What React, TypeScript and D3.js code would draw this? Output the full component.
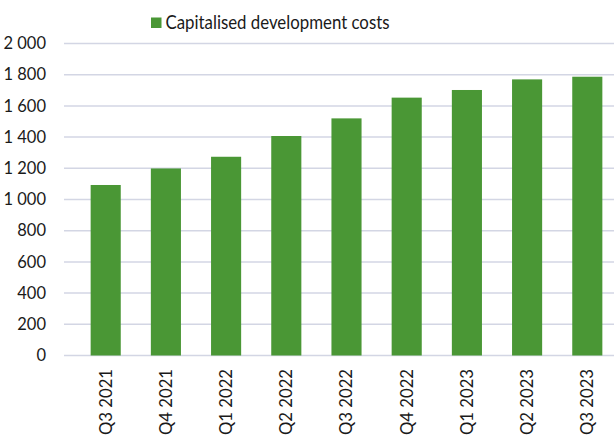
import React, { useEffect, useRef } from 'react';
import * as d3 from 'd3';

const quarters = ['Q3 2021', 'Q4 2021', 'Q1 2022', 'Q2 2022', 'Q3 2022', 'Q4 2022', 'Q1 2023', 'Q2 2023', 'Q3 2023'];
const devCosts = [1093, 1199, 1274, 1407, 1520, 1653, 1702, 1770, 1787];
const yTicks = [0, 200, 400, 600, 800, 1000, 1200, 1400, 1600, 1800, 2000];
const seriesName = 'Capitalised development costs';

const WIDTH = 614;
const HEIGHT = 437;
const FONT = '"Source Sans Pro", Lato, "Noto Sans", sans-serif';

const App: React.FC = () => {
  const svgRef = useRef<SVGSVGElement>(null);

  useEffect(() => {
    if (!svgRef.current) return;
    const svg = d3.select(svgRef.current);
    svg.selectAll('*').remove();

    const y = d3.scaleLinear().domain([0, 2000]).range([355.5, 43.5]);
    const x = d3.scaleBand().domain(quarters).range([75.6, 617.4]).paddingInner(0.5).paddingOuter(0.25);

    const fmt = (v: number) => d3.format(',')(v).replace(/,/g, ' ');

    // Gridlines
    svg.append('g')
      .selectAll('line')
      .data(yTicks)
      .enter()
      .append('line')
      .attr('x1', 64)
      .attr('x2', WIDTH)
      .attr('y1', (d) => y(d))
      .attr('y2', (d) => y(d))
      .style('stroke', '#d3d6e4')
      .style('stroke-width', 1.5);

    // Y labels
    svg.append('g')
      .selectAll('text')
      .data(yTicks)
      .enter()
      .append('text')
      .attr('x', 46)
      .attr('y', (d) => y(d))
      .attr('dy', '0.35em')
      .attr('text-anchor', 'end')
      .style('font-family', FONT)
      .style('font-size', '16.5px')
      .style('fill', '#1a1a1a')
      .text((d) => fmt(d));

    // Bars
    svg.append('g')
      .selectAll('rect')
      .data(devCosts)
      .enter()
      .append('rect')
      .attr('x', (_, i) => x(quarters[i]) || 0)
      .attr('y', (d) => y(d))
      .attr('width', x.bandwidth())
      .attr('height', (d) => y(0) - y(d))
      .style('fill', '#4a9735');

    // X labels (rotated)
    svg.append('g')
      .selectAll('text')
      .data(quarters)
      .enter()
      .append('text')
      .attr('transform', (d) => `translate(${(x(d) || 0) + x.bandwidth() / 2},369) rotate(-90)`)
      .attr('dy', '0.35em')
      .attr('text-anchor', 'end')
      .attr('textLength', 66)
      .attr('lengthAdjust', 'spacingAndGlyphs')
      .style('font-family', FONT)
      .style('font-size', '17px')
      .style('fill', '#1a1a1a')
      .text((d) => d);

    // Legend
    const legend = svg.append('g');
    legend.append('rect')
      .attr('x', 151)
      .attr('y', 17.5)
      .attr('width', 10.5)
      .attr('height', 10.5)
      .style('fill', '#4a9735');
    legend.append('text')
      .attr('x', 165.5)
      .attr('y', 29)
      .attr('textLength', 224)
      .attr('lengthAdjust', 'spacingAndGlyphs')
      .style('font-family', FONT)
      .style('font-size', '20px')
      .style('fill', '#1a1a1a')
      .text(seriesName);

    return () => {
      svg.selectAll('*').remove();
    };
  }, []);

  return (
    <div style={{ position: 'absolute', left: 0, top: 0 }}>
      <svg ref={svgRef} width={WIDTH} height={HEIGHT} style={{ display: 'block', background: '#fff' }} />
    </div>
  );
};

export default App;
